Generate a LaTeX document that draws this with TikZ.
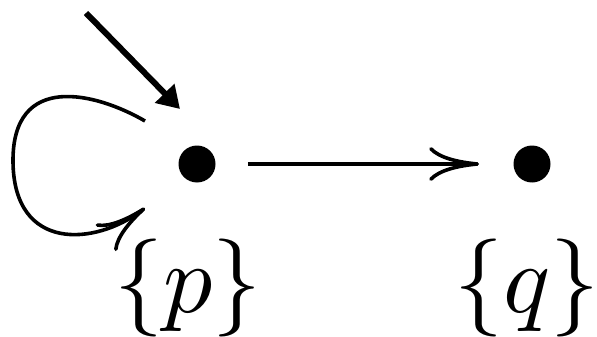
\documentclass[tikz,border=0pt]{standalone}
\usepackage{graphicx}
\usetikzlibrary{arrows.meta}
\begin{document}
\begin{tikzpicture}[x=0.5pt,y=-0.5pt,
  state/.style={circle,fill=black,inner sep=0pt,minimum size=18.5pt},
  lbl/.style={anchor=base,inner sep=0pt},
  edge/.style={line width=1.8pt,-{Computer Modern Rightarrow[length=25pt,width=17pt]}},
  initarrow/.style={line width=3pt,-{Triangle[length=11pt,width=13pt]}}]
\useasboundingbox (0,0) rectangle (597,336);
\node[state] (p) at (197,164) {};
\node[state] (q) at (532,164) {};
\node[lbl] (lp) at (188,312) {\scalebox{4.9}{$\{p\}$}};
\node[lbl] (lq) at (527,312) {\scalebox{4.9}{$\{q\}$}};
\coordinate (start) at (86,13);
\coordinate (ls) at (145,121);
\coordinate (le) at (145,208);
\draw[initarrow] (start) -- (180,109);
\draw[edge,shorten <=16pt,shorten >=17pt] (p) -- (q);
\draw[edge] (ls) .. controls (95,92) and (12,72) .. (13,162)
  .. controls (14,252) and (95,246) .. (le);
\end{tikzpicture}
\end{document}
